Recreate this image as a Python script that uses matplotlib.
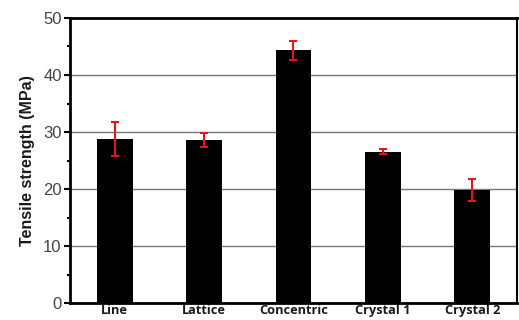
import matplotlib
matplotlib.use("Agg")
import matplotlib.pyplot as plt
from matplotlib.ticker import MultipleLocator

categories = ["Line", "Lattice", "Concentric", "Crystal 1", "Crystal 2"]
strength = [28.8, 28.6, 44.3, 26.6, 19.8]
error = [2.9, 1.2, 1.6, 0.45, 1.9]

fig = plt.figure(figsize=(5.19, 3.2), dpi=100)
ax = fig.add_axes([0.135, 0.052, 0.861, 0.892])

x = list(range(len(categories)))
ax.bar(x, strength, width=0.4, color="black", zorder=3)
ax.errorbar(x, strength, yerr=error, fmt="none", ecolor="#e8141c",
            elinewidth=1.5, capsize=3, capthick=1.5, zorder=4)

ax.set_xlim(-0.5, 4.5)
ax.set_ylim(0, 50)
ax.yaxis.set_major_locator(MultipleLocator(10))
ax.yaxis.set_minor_locator(MultipleLocator(5))
ax.grid(axis="y", color="#777777", linewidth=1.0, zorder=1)

ax.set_xticks(x)
ax.set_xticklabels(categories, fontfamily="Open Sans", fontweight="bold",
                   fontsize=9.2, color="#1a1a1a")
ax.tick_params(axis="x", length=0, pad=0.5)
ax.tick_params(axis="y", which="major", length=4, width=1.5, direction="out",
               labelsize=12, labelcolor="#444444", pad=2)
ax.tick_params(axis="y", which="minor", length=2.5, width=1.5, direction="out")
for lbl in ax.get_yticklabels():
    lbl.set_fontfamily("Liberation Sans")

ax.set_ylabel("Tensile strength (MPa)", fontfamily="Liberation Sans",
              fontweight="bold", fontsize=11.5, color="#1a1a1a", labelpad=6)

for side in ["left", "bottom", "top"]:
    ax.spines[side].set_linewidth(2.0)
    ax.spines[side].set_color("black")
ax.spines["right"].set_linewidth(1.5)

fig.savefig("out.png", dpi=100)
